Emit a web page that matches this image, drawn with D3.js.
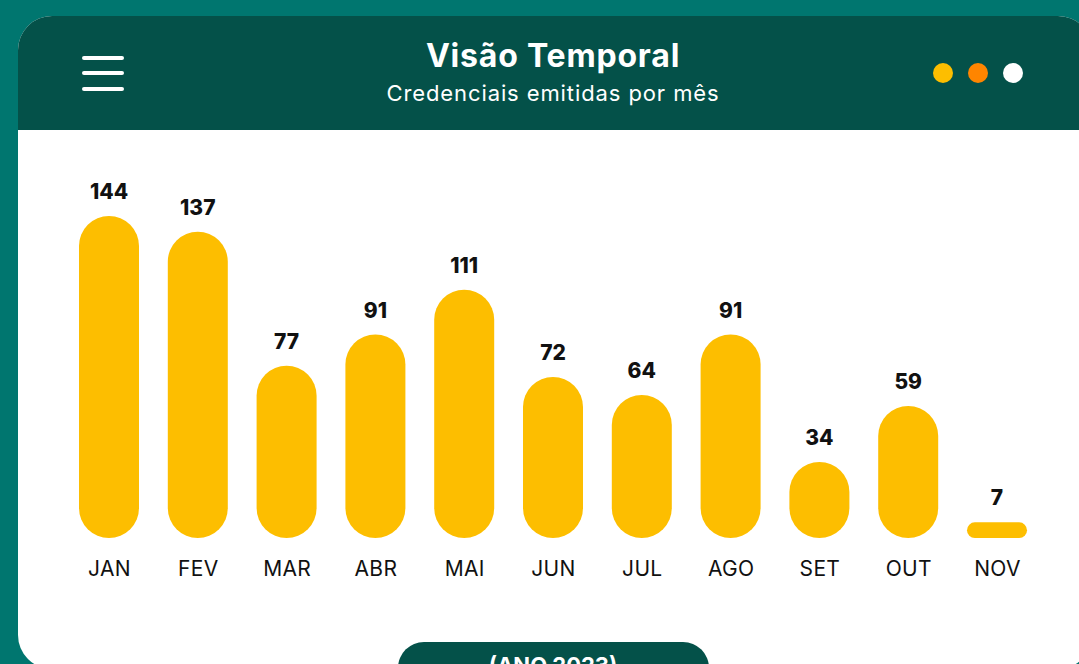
<!DOCTYPE html>
<html>
<head>
<meta charset="utf-8">
<script src="https://cdn.jsdelivr.net/npm/d3@7"></script>
<style>
  html, body { margin: 0; padding: 0; background: #00766f; overflow: hidden; }
  svg { display: block; }
</style>
</head>
<body>
<div id="chart"></div>
<script>
// data
const months = ['JAN', 'FEV', 'MAR', 'ABR', 'MAI', 'JUN', 'JUL', 'AGO', 'SET', 'OUT', 'NOV'];
const credentials = [144, 137, 77, 91, 111, 72, 64, 91, 34, 59, 7];
const title = 'Visão Temporal';
const subtitle = 'Credenciais emitidas por mês';
const yearLabel = '(ANO 2023)';

const width = 1079;
const height = 664;

const svg = d3.select('#chart')
    .append('svg')
        .attr('width', width)
        .attr('height', height);

// background
svg.append('rect')
    .attr('width', width)
    .attr('height', height)
    .attr('fill', '#00766f');

// card (white body + dark header)
const cardX = 18, cardY = 16, cardW = 1074, cardH = 653, r = 34;
svg.append('rect')
    .attr('x', cardX).attr('y', cardY)
    .attr('width', cardW).attr('height', cardH)
    .attr('rx', r)
    .attr('fill', '#ffffff');

const headerBottom = 130;
svg.append('path')
    .attr('d', `M${cardX},${headerBottom} V${cardY + r} A${r},${r} 0 0 1 ${cardX + r},${cardY}
                H${cardX + cardW - r} A${r},${r} 0 0 1 ${cardX + cardW},${cardY + r} V${headerBottom} Z`)
    .attr('fill', '#045149');

// hamburger icon
svg.append('g')
    .selectAll('line')
    .data([58, 73, 89])
    .join('line')
        .attr('x1', 84).attr('x2', 122)
        .attr('y1', d => d).attr('y2', d => d)
        .attr('stroke', '#ffffff')
        .attr('stroke-width', 4)
        .attr('stroke-linecap', 'round');

// window dots
svg.append('g')
    .selectAll('circle')
    .data(['#fdbe00', '#ff8500', '#ffffff'])
    .join('circle')
        .attr('cx', (d, i) => 943 + i * 35)
        .attr('cy', 73)
        .attr('r', 10)
        .attr('fill', d => d);

// titles
svg.append('text')
    .attr('x', 553).attr('y', 67)
    .attr('text-anchor', 'middle')
    .attr('fill', '#ffffff')
    .style('font-family', 'Inter, "Open Sans", sans-serif')
    .style('font-weight', 700)
    .style('font-size', '32px')
    .style('letter-spacing', '0.8px')
    .text(title);

svg.append('text')
    .attr('x', 553).attr('y', 101)
    .attr('text-anchor', 'middle')
    .attr('fill', '#ffffff')
    .style('font-family', 'Inter, "Open Sans", sans-serif')
    .style('font-weight', 400)
    .style('font-size', '22px')
    .style('letter-spacing', '0.9px')
    .text(subtitle);

// scales
const x = d3.scalePoint()
    .domain(months)
    .range([109, 997]);

const y = d3.scaleLinear()
    .domain([0, 144])
    .range([538, 216]);

const barWidth = 60;
const data = months.map((m, i) => ({month: m, value: credentials[i]}));

// bars
svg.append('g')
    .selectAll('rect')
    .data(data)
    .join('rect')
        .attr('x', d => x(d.month) - barWidth / 2)
        .attr('y', d => y(d.value))
        .attr('width', barWidth)
        .attr('height', d => y(0) - y(d.value))
        .attr('rx', d => Math.min(barWidth / 2, (y(0) - y(d.value)) / 2))
        .attr('fill', '#fdbe00');

// value labels
svg.append('g')
    .selectAll('text')
    .data(data)
    .join('text')
        .attr('x', d => x(d.month))
        .attr('y', d => y(d.value) - 17)
        .attr('text-anchor', 'middle')
        .attr('fill', '#111111')
        .style('font-family', 'Inter, "Open Sans", sans-serif')
        .style('font-weight', 800)
        .style('font-size', '21px')
        .text(d => d.value);

// month axis
const xAxis = svg.append('g')
    .attr('transform', 'translate(0, 576)')
    .call(d3.axisBottom(x).tickSize(0).tickPadding(0));
xAxis.select('.domain').remove();
xAxis.selectAll('text')
    .attr('dy', 0)
    .attr('fill', '#111111')
    .style('font-family', 'Inter, "Open Sans", sans-serif')
    .style('font-size', '21px')
    .style('letter-spacing', '0.3px');

// year pill (cut by the bottom edge, as in the reference)
svg.append('rect')
    .attr('x', 398).attr('y', 642)
    .attr('width', 311).attr('height', 56)
    .attr('rx', 26)
    .attr('fill', '#045149');

svg.append('text')
    .attr('x', 553).attr('y', 673)
    .attr('text-anchor', 'middle')
    .attr('fill', '#ffffff')
    .style('font-family', 'Inter, "Open Sans", sans-serif')
    .style('font-weight', 700)
    .style('font-size', '22px')
    .text(yearLabel);
</script>
</body>
</html>
